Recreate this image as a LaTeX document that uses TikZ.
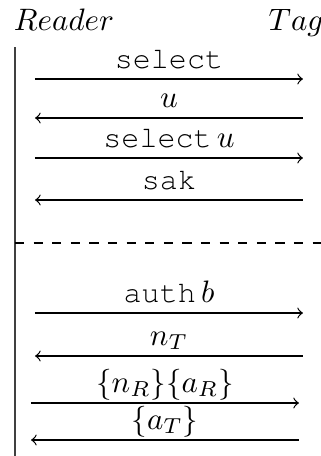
\documentclass[tikz,border=0pt]{standalone}
\usepackage[T1,TU]{fontenc}
\newcommand\crfont{\fontencoding{T1}\fontfamily{pcr}\fontsize{9.7}{11}\selectfont}
\begin{document}
\begin{tikzpicture}[x=0.3226pt,y=-0.3226pt,
  msg/.style={->,line width=0.4pt},
  lbl/.style={anchor=base,inner sep=0pt,yshift=3.5pt},
  party/.style={anchor=base,inner sep=0pt}]
\useasboundingbox (0,0) rectangle (321,456);
\node[party] (reader) at (64,30) {$Reader$};
\node[party] (tag) at (296,30) {$Tag$};
\coordinate (ltop) at (15,47);
\coordinate (lbot) at (15,456);
\draw[line width=0.4pt,black!75] (ltop) -- (lbot);
% messages
\coordinate (a1l) at (35,79);  \coordinate (a1r) at (303,79);
\coordinate (a2l) at (35,118); \coordinate (a2r) at (303,118);
\coordinate (a3l) at (35,158); \coordinate (a3r) at (303,158);
\coordinate (a4l) at (35,200); \coordinate (a4r) at (303,200);
\coordinate (dl) at (15,243);  \coordinate (dr) at (321,243);
\coordinate (a5l) at (35,313); \coordinate (a5r) at (303,313);
\coordinate (a6l) at (35,356); \coordinate (a6r) at (303,356);
\coordinate (a7l) at (31,403); \coordinate (a7r) at (299,403);
\coordinate (a8l) at (31,440); \coordinate (a8r) at (299,440);
\draw[msg] (a1l) -- node[lbl] {\crfont select} (a1r);
\draw[msg] (a2r) -- node[lbl] {$u$} (a2l);
\draw[msg] (a3l) -- node[lbl] {{\crfont select}\,$u$} (a3r);
\draw[msg] (a4r) -- node[lbl] {\crfont sak} (a4l);
\draw[dashed,line width=0.4pt] (dl) -- (dr);
\draw[msg] (a5l) -- node[lbl] {{\crfont auth}\,$b$} (a5r);
\draw[msg] (a6r) -- node[lbl] {$n_T$} (a6l);
\draw[msg] (a7l) -- node[lbl] {$\{n_R\}\{a_R\}$} (a7r);
\draw[msg] (a8r) -- node[lbl] {$\{a_T\}$} (a8l);
\end{tikzpicture}
\end{document}
